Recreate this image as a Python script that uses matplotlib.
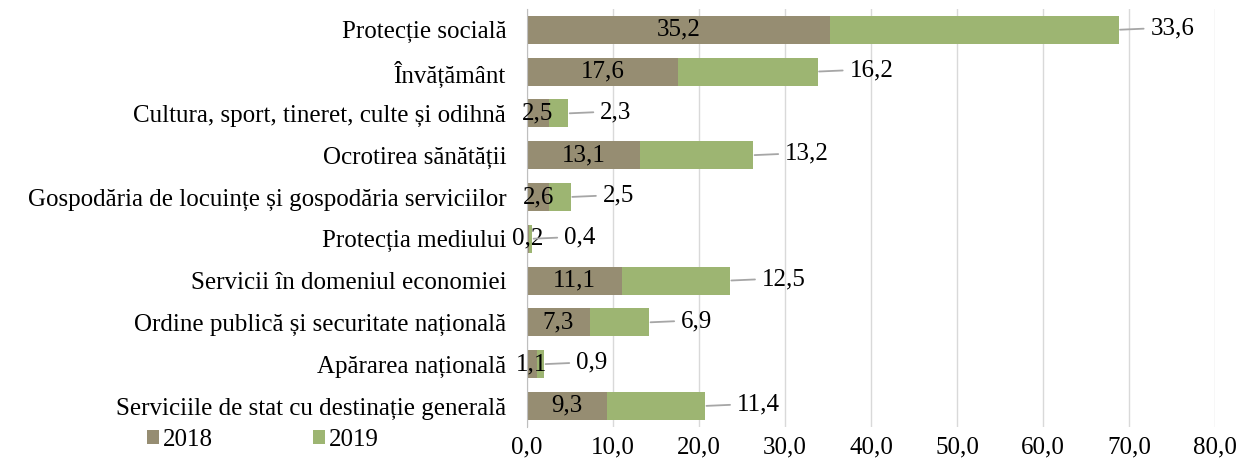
import matplotlib.pyplot as plt
import numpy as np

categories = [
    'Protecție socială',
    'Învățământ',
    'Cultura, sport, tineret, culte și odihnă',
    'Ocrotirea sănătății',
    'Gospodăria de locuințe și gospodăria serviciilor',
    'Protecția mediului',
    'Servicii în domeniul economiei',
    'Ordine publică și securitate națională',
    'Apărarea națională',
    'Serviciile de stat cu destinație generală',
]
v2018 = [35.2, 17.6, 2.5, 13.1, 2.6, 0.2, 11.1, 7.3, 1.1, 9.3]
v2019 = [33.6, 16.2, 2.3, 13.2, 2.5, 0.4, 12.5, 6.9, 0.9, 11.4]
xticks = np.arange(0, 81, 10)

c2018 = '#968D72'
c2019 = '#9DB572'
fs = 18

plt.rcParams['font.family'] = ['Liberation Serif', 'DejaVu Serif']

fig = plt.figure(figsize=(12.41, 4.67), dpi=100)
ax = fig.add_axes([0.4247, 0.086, 0.5543, 0.895])

y = np.arange(len(categories))
b1 = ax.barh(y, v2018, height=0.67, color=c2018, label='2018')
b2 = ax.barh(y, v2019, left=v2018, height=0.67, color=c2019, label='2019')

def fmt(v):
    return f'{v:.1f}'.replace('.', ',')

for yi, a, b in zip(y, v2018, v2019):
    ax.text(a / 2, yi, fmt(a), ha='center', va='center', fontsize=fs, color='black')
    ax.annotate(fmt(b), xy=(a + b, yi), xytext=(23, 1), textcoords='offset points',
                ha='left', va='center', fontsize=fs,
                arrowprops=dict(arrowstyle='-', color='#A6A6A6', lw=1.3,
                                shrinkA=3, shrinkB=1, relpos=(0, 0.5)))

ax.set_xlim(0, 80)
ax.set_ylim(len(categories) - 0.5, -0.5)
ax.set_xticks(xticks)
ax.set_xticklabels([fmt(t) for t in xticks], fontsize=fs)
ax.set_yticks(y)
ax.set_yticklabels(categories, fontsize=fs)
ax.tick_params(axis='both', length=0)
ax.tick_params(axis='x', pad=7)
ax.tick_params(axis='y', pad=15)
ax.grid(axis='x', color='#D9D9D9', lw=1)
ax.set_axisbelow(True)
for s in ['top', 'right', 'bottom']:
    ax.spines[s].set_visible(False)
ax.spines['left'].set_color('#BFBFBF')

fig.legend(handles=[b1, b2], loc='center left', bbox_to_anchor=(0.100, 0.058),
           ncol=2, frameon=False, fontsize=fs, handlelength=0.5, handleheight=0.5,
           handletextpad=0.15, columnspacing=4.0)

fig.savefig('out.png', dpi=100)
